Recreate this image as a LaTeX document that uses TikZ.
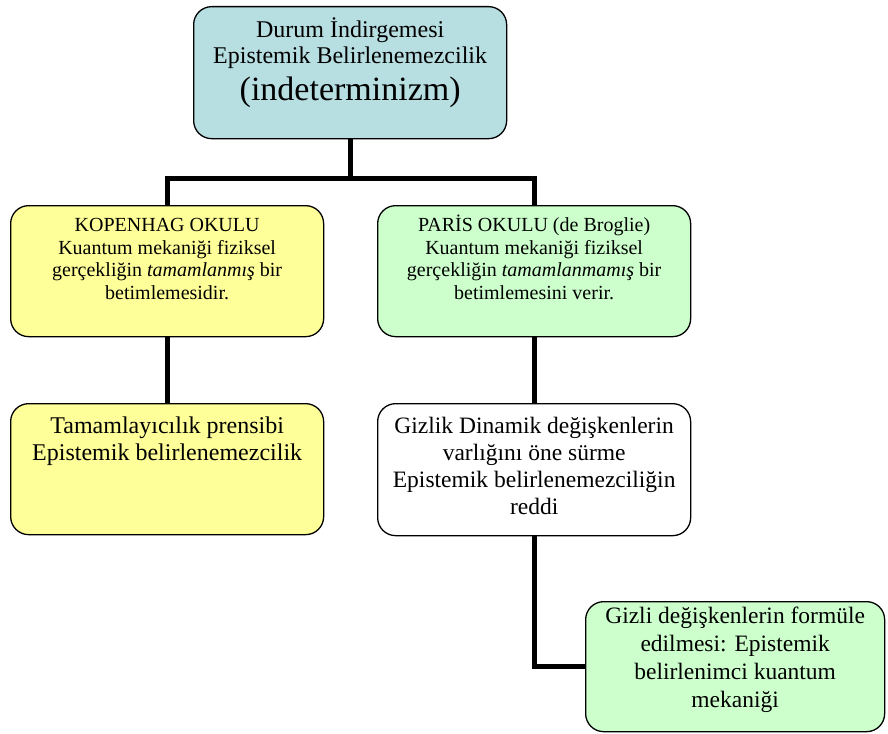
\documentclass[tikz,border=0pt]{standalone}
\usepackage{fontspec}
\setmainfont{Liberation Serif}
\definecolor{topblue}{RGB}{183,222,225}
\definecolor{paleyellow}{RGB}{255,255,153}
\definecolor{palegreen}{RGB}{204,255,204}
% text block of fixed size; #3 is the first baseline's distance from the top edge
\newcommand{\toptext}[4]{\parbox[c][#2][t]{#1}{\centering\rule{0pt}{#3}#4\par}}
\begin{document}
\begin{tikzpicture}[x=1pt,y=-1pt,
  card/.style={draw=black, line width=1.3pt, rounded corners=18pt, inner sep=0pt, anchor=north west},
  conn/.style={draw=black, line width=5pt, line join=miter}]
\useasboundingbox (0,0) rectangle (888,733);

% boxes
\node[card, fill=topblue] (top) at (193,6)
  {\toptext{313pt}{132pt}{31pt}{\fontsize{24}{26}\selectfont Durum İndirgemesi\\Epistemik Belirlenemezcilik\par
   \fontsize{34}{37}\selectfont (indeterminizm)}};
\node[card, fill=paleyellow] (kop) at (10,205)
  {\toptext{313pt}{131pt}{26pt}{\fontsize{20}{22.5}\selectfont KOPENHAG OKULU\\Kuantum mekaniği fiziksel\\gerçekliğin \textit{tamamlanmış} bir\\betimlemesidir.}};
\node[card, fill=palegreen] (par) at (377,205)
  {\toptext{313pt}{131pt}{26pt}{\fontsize{20}{22.5}\selectfont PARİS OKULU (de Broglie)\\Kuantum mekaniği fiziksel\\gerçekliğin \textit{tamamlanmamış} bir\\betimlemesini verir.}};
\node[card, fill=paleyellow] (tam) at (10,403)
  {\toptext{313pt}{131pt}{30pt}{\fontsize{24}{27}\selectfont Tamamlayıcılık prensibi\\Epistemik belirlenemezcilik}};
\node[card, fill=white] (giz) at (377,403)
  {\toptext{313pt}{132pt}{30pt}{\fontsize{23.5}{27}\selectfont Gizlik Dinamik değişkenlerin\\varlığını öne sürme\\Epistemik belirlenemezciliğin\\reddi}};
\node[card, fill=palegreen] (fin) at (585,601)
  {\toptext{299pt}{130pt}{22pt}{\fontsize{23.5}{28}\selectfont Gizli değişkenlerin formüle\\edilmesi: Epistemik\\belirlenimci kuantum\\mekaniği}};

% connectors
\coordinate (fork) at (top.south |- 0,178);
\draw[conn] (top.south) -- (fork);
\draw[conn] (kop.north) |- (fork) -| (par.north);
\draw[conn] (kop.south) -- (tam.north);
\draw[conn] (par.south) -- (giz.north);
\draw[conn] (giz.south) |- (fin.west);
\end{tikzpicture}
\end{document}
